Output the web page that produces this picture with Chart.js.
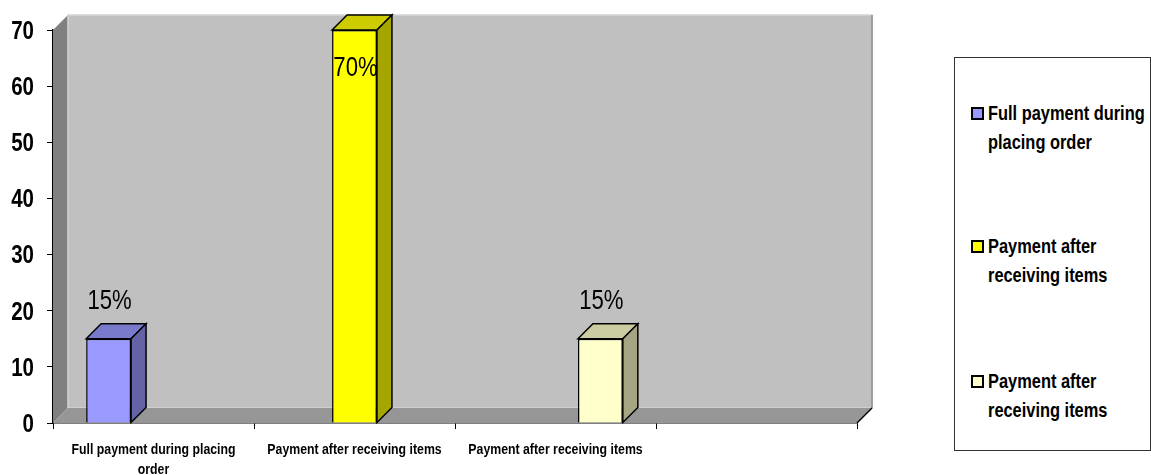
<!DOCTYPE html>
<html>
<head>
<meta charset="utf-8">
<script src="https://cdn.jsdelivr.net/npm/chart.js@4.4.1/dist/chart.umd.min.js"></script>
<style>
  html, body { margin: 0; padding: 0; background: #fff; overflow: hidden; }
  #page { position: relative; width: 1151px; height: 475px; overflow: hidden; }
  #box { position: absolute; left: 0; top: 0; width: 1151px; height: 475px; }
  #legend {
    position: absolute; left: 954px; top: 57px; width: 197px; height: 394px;
    box-sizing: border-box; border: 1px solid #333; background: #fff;
    font: bold 20px 'Liberation Sans', Arial, sans-serif;
    color: #000;
  }
  .item { position: absolute; left: 16px; width: 220px; }
  .swatch { position: absolute; left: 0; top: 8px; width: 9px; height: 9px; border: 2px solid #000; }
  .text { position: absolute; left: 17px; top: 0; width: 196px; line-height: 29px; transform: scaleX(0.82); transform-origin: 0 0; }
</style>
</head>
<body>
<div id="page">
  <div id="box"><canvas id="PaymentChart"></canvas></div>
  <div id="legend"></div>
</div>
<script>
// categories (the fourth slot is left empty)
const categories = [["Full payment during placing", "order"], "Payment after receiving items", "Payment after receiving items", ""];
const seriesNames = ["Full payment during placing order", "Payment after receiving items", "Payment after receiving items"];
const fullPayment = [15, null, null, null];
const afterReceiving = [null, 70, null, null];
const afterReceiving2 = [null, null, 15, null];
const yTicks = [0, 10, 20, 30, 40, 50, 60, 70];
const colors = ["#9999ff", "#ffff00", "#ffffcc"];

const DEPTH = 15;
const FONT = "'Liberation Sans', Arial, sans-serif";
const NARROW = 0.82;

function shade(hex, f) {
    const n = parseInt(hex.slice(1), 16);
    const r = Math.round(((n >> 16) & 255) * f);
    const g = Math.round(((n >> 8) & 255) * f);
    const b = Math.round((n & 255) * f);
    return "rgb(" + r + "," + g + "," + b + ")";
}

function poly(ctx, pts, fill, stroke, lw) {
    ctx.beginPath();
    ctx.moveTo(pts[0][0], pts[0][1]);
    for (let i = 1; i < pts.length; i++) ctx.lineTo(pts[i][0], pts[i][1]);
    ctx.closePath();
    if (fill) { ctx.fillStyle = fill; ctx.fill(); }
    if (stroke) { ctx.strokeStyle = stroke; ctx.lineWidth = lw || 1; ctx.stroke(); }
}

// condensed text: squeeze Liberation Sans horizontally
function narrowText(ctx, text, x, y, font, align) {
    ctx.save();
    ctx.font = font;
    ctx.fillStyle = "#000";
    ctx.textAlign = align;
    ctx.textBaseline = "middle";
    ctx.translate(x, y);
    ctx.scale(NARROW, 1);
    ctx.fillText(text, 0, 0);
    ctx.restore();
}

// walls, floor and the extruded faces of the columns
const threeD = {
    id: "threeD",
    beforeDatasetsDraw(chart) {
        const { ctx, chartArea: a, scales: { y } } = chart;
        const D = DEPTH;
        const top = y.getPixelForValue(y.max);
        ctx.save();
        // left side wall
        poly(ctx, [[a.left, top], [a.left + D, top - D], [a.left + D, a.bottom - D], [a.left, a.bottom]], "#808080");
        // back wall
        poly(ctx, [[a.left + D, top - D], [a.right + D, top - D], [a.right + D, a.bottom - D], [a.left + D, a.bottom - D]], "#c0c0c0", "#d4d4d4", 1.5);
        ctx.strokeStyle = "#8a8a8a";
        ctx.lineWidth = 1.5;
        ctx.beginPath();
        ctx.moveTo(a.right + D, top - D);
        ctx.lineTo(a.right + D, a.bottom - D);
        ctx.stroke();
        // floor
        poly(ctx, [[a.left, a.bottom], [a.left + D, a.bottom - D], [a.right + D, a.bottom - D], [a.right, a.bottom]], "#969696");
        ctx.strokeStyle = "#000";
        ctx.lineWidth = 1.5;
        ctx.beginPath();
        ctx.moveTo(a.right, a.bottom);
        ctx.lineTo(a.right + D, a.bottom - D);
        ctx.stroke();
        ctx.restore();
    },
    afterDatasetsDraw(chart) {
        const { ctx, chartArea: a } = chart;
        const D = DEPTH;
        ctx.save();
        chart.data.datasets.forEach((ds, i) => {
            const meta = chart.getDatasetMeta(i);
            meta.data.forEach((el, j) => {
                const v = ds.data[j];
                if (v === null || v === undefined) return;
                const { x, y, base, width } = el.getProps(["x", "y", "base", "width"], true);
                const l = x - width / 2, r = x + width / 2;
                poly(ctx, [[l, y], [l + D, y - D], [r + D, y - D], [r, y]], shade(ds.backgroundColor, 0.8), "#000", 1.5);
                poly(ctx, [[r, y], [r + D, y - D], [r + D, base - D], [r, base]], shade(ds.backgroundColor, 0.65), "#000", 1.5);
                // value label, pushed inside the column when there is no room above
                const ly = y - 37 < a.top - 10 ? y + 39 : y - 37;
                narrowText(ctx, v + "%", x + 1, ly, "27px " + FONT, "center");
            });
        });
        ctx.restore();
    },
    afterDraw(chart) {
        const { ctx, chartArea: a, scales: { x, y } } = chart;
        // y tick labels
        yTicks.forEach(v => {
            narrowText(ctx, String(v), a.left - 19, y.getPixelForValue(v) + 2, "bold 25px " + FONT, "right");
        });
        // category labels, one row per line
        categories.forEach((c, i) => {
            const lines = Array.isArray(c) ? c : [c];
            lines.forEach((t, k) => {
                narrowText(ctx, t, x.getPixelForValue(i), a.bottom + 27 + k * 20, "bold 15px " + FONT, "center");
            });
        });
    }
};

const datasets = [fullPayment, afterReceiving, afterReceiving2].map((d, i) => ({
    label: seriesNames[i],
    data: d,
    backgroundColor: colors[i],
    borderColor: "#000",
    borderWidth: 1.5,
    categoryPercentage: 0.67,
    barPercentage: 1.0
}));

new Chart("PaymentChart", {
    type: "bar",
    data: { labels: categories, datasets: datasets },
    plugins: [threeD],
    options: {
        animation: false,
        responsive: true,
        maintainAspectRatio: false,
        layout: { padding: { left: 47, right: 294, top: 30, bottom: 46 } },
        plugins: {
            legend: { display: false },
            tooltip: { enabled: false }
        },
        scales: {
            x: {
                grid: { display: true, drawOnChartArea: false, offset: true, tickLength: 6, color: "#000", lineWidth: 1 },
                border: { display: true, color: "#000", width: 1.5 },
                ticks: { display: false }
            },
            y: {
                min: 0,
                max: 70,
                afterBuildTicks: (s) => { s.ticks = yTicks.map(v => ({ value: v })); },
                grid: { display: true, drawOnChartArea: false, tickLength: 6, color: "#000", lineWidth: 1 },
                border: { display: true, color: "#000", width: 1.5 },
                ticks: { display: false }
            }
        }
    }
});

// legend box
const legend = document.getElementById("legend");
const tops = [98, 231, 366];
seriesNames.forEach((name, i) => {
    const item = document.createElement("div");
    item.className = "item";
    item.style.top = (tops[i] - 57) + "px";
    item.innerHTML = '<span class="swatch" style="background:' + colors[i] + '"></span><div class="text">' + name + '</div>';
    legend.appendChild(item);
});
</script>
</body>
</html>
